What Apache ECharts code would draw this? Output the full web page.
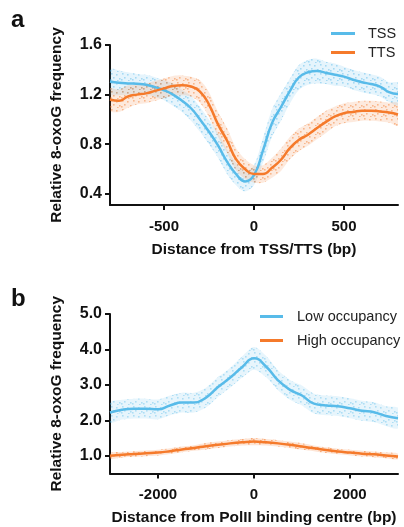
<!DOCTYPE html>
<html>
<head>
<meta charset="utf-8">
<script src="https://cdn.jsdelivr.net/npm/echarts@6/dist/echarts.min.js"></script>
<style>html,body{margin:0;padding:0;background:#fff}#c{width:404px;height:527px}</style>
</head>
<body>
<div id="c"></div>
<script>
// Panel a: distance from TSS/TTS (bp)
var xA = [-800,-750,-700,-650,-600,-550,-500,-450,-400,-350,-300,-250,-200,-150,-100,-50,0,50,100,150,200,250,300,350,400,450,500,550,600,650,700,750,800];
var tss = [1.305,1.295,1.29,1.287,1.28,1.26,1.235,1.20,1.15,1.09,1.00,0.90,0.79,0.66,0.56,0.50,0.55,0.75,0.97,1.10,1.23,1.34,1.38,1.39,1.375,1.36,1.345,1.32,1.30,1.285,1.265,1.22,1.205];
var tts = [1.16,1.15,1.185,1.20,1.21,1.23,1.25,1.27,1.275,1.265,1.225,1.12,0.96,0.83,0.68,0.60,0.56,0.56,0.61,0.675,0.77,0.836,0.877,0.93,0.98,1.024,1.05,1.06,1.07,1.07,1.064,1.055,1.04];
// half-width of the point clouds
var tssSpread = [0.10,0.10,0.09,0.08,0.08,0.08,0.08,0.09,0.09,0.10,0.10,0.10,0.10,0.10,0.09,0.08,0.08,0.10,0.11,0.11,0.10,0.10,0.10,0.10,0.09,0.09,0.08,0.08,0.08,0.08,0.08,0.08,0.09];
var ttsSpread = [0.09,0.09,0.09,0.08,0.08,0.08,0.08,0.08,0.08,0.08,0.09,0.10,0.10,0.10,0.09,0.08,0.07,0.07,0.08,0.09,0.09,0.09,0.09,0.09,0.09,0.08,0.08,0.08,0.08,0.08,0.08,0.08,0.09];
var ticksAx = [-500,0,500];
var ticksAy = [0.4,0.8,1.2,1.6];

// Panel b: distance from PolII binding centre (bp)
var xB = [-3000,-2750,-2500,-2250,-2000,-1750,-1500,-1250,-1000,-750,-500,-250,0,250,500,750,1000,1250,1500,1750,2000,2250,2500,2750,3000];
var lowOcc = [2.22,2.30,2.33,2.33,2.31,2.42,2.50,2.50,2.64,2.94,3.20,3.50,3.75,3.52,3.13,2.86,2.70,2.47,2.42,2.40,2.34,2.27,2.23,2.12,2.06];
var highOcc = [1.00,1.03,1.05,1.07,1.09,1.13,1.18,1.22,1.27,1.31,1.35,1.38,1.40,1.38,1.35,1.31,1.26,1.21,1.16,1.12,1.09,1.06,1.04,1.01,0.98];
var lowSpread = [0.28,0.28,0.28,0.28,0.28,0.28,0.28,0.28,0.28,0.28,0.28,0.30,0.32,0.30,0.28,0.28,0.28,0.28,0.28,0.28,0.28,0.28,0.28,0.28,0.28];
var highSpread = [0.08,0.08,0.08,0.08,0.08,0.08,0.08,0.08,0.09,0.09,0.09,0.09,0.10,0.09,0.09,0.09,0.09,0.08,0.08,0.08,0.08,0.08,0.08,0.08,0.08];
var ticksBx = [-2000,0,2000];
var ticksBy = [1.0,2.0,3.0,4.0,5.0];

var BLUE = '#58BBE9', ORANGE = '#F57A2B';
var FONT = '"Liberation Sans", Arial, sans-serif';

// speckle texture used to fill the point-cloud bands
function speckle(rgb, alpha) {
  var c = document.createElement('canvas');
  c.width = 11; c.height = 9;
  var g = c.getContext('2d');
  g.fillStyle = 'rgba(' + rgb + ',' + (alpha * 0.35) + ')';
  g.fillRect(0, 0, 11, 9);
  g.fillStyle = 'rgba(' + rgb + ',' + alpha + ')';
  var dots = [[1,1],[6,2],[3,5],[9,6],[7,8],[0,7]];
  dots.forEach(function (d) { g.fillRect(d[0], d[1], 1.6, 1.6); });
  return c;
}

function pairs(xs, ys) { return xs.map(function (x, i) { return [x, ys[i]]; }); }

function band(name, xs, ys, sp, rgb, alpha, axisIdx) {
  var data = xs.map(function (x, i) { return [x, ys[i] - sp[i], ys[i] + sp[i]]; });
  var tex = speckle(rgb, alpha);
  return {
    type: 'custom', name: name, xAxisIndex: axisIdx, yAxisIndex: axisIdx, silent: true, z: 1,
    data: data, clip: true,
    renderItem: function (params, api) {
      if (params.dataIndex !== 0) return null;
      var up = [], lo = [];
      for (var i = 0; i < data.length; i++) {
        up.push(api.coord([data[i][0], data[i][2]]));
        lo.unshift(api.coord([data[i][0], data[i][1]]));
      }
      return {
        type: 'polygon',
        shape: { points: up.concat(lo), smooth: 0.3 },
        style: { fill: { image: tex, repeat: 'repeat' } }
      };
    }
  };
}

function line(name, xs, ys, color, axisIdx) {
  return {
    type: 'line', name: name, xAxisIndex: axisIdx, yAxisIndex: axisIdx, z: 3,
    data: pairs(xs, ys), smooth: 0.5, showSymbol: false, symbol: 'none',
    lineStyle: { color: color, width: 2.5 }, itemStyle: { color: color }
  };
}

function xAxis(idx, min, max, ticks, name) {
  return {
    type: 'value', gridIndex: idx, min: min, max: max,
    axisLine: { show: true, onZero: false, lineStyle: { color: '#111', width: 2 } },
    axisTick: { show: true, length: 5, lineStyle: { color: '#111', width: 2 }, customValues: ticks },
    axisLabel: { customValues: ticks, color: '#111', fontFamily: FONT, fontWeight: 'bold', fontSize: 15, margin: 14,
      formatter: function (v) { return String(v); } },
    splitLine: { show: false },
    name: name, nameLocation: 'middle', nameGap: 36.5,
    nameTextStyle: { color: '#111', fontFamily: FONT, fontWeight: 'bold', fontSize: 15.5 }
  };
}
function yAxis(idx, min, max, ticks) {
  return {
    type: 'value', gridIndex: idx, min: min, max: max,
    axisLine: { show: true, onZero: false, lineStyle: { color: '#111', width: 2 } },
    axisTick: { show: true, length: 5, lineStyle: { color: '#111', width: 2 }, customValues: ticks },
    axisLabel: { customValues: ticks, color: '#111', fontFamily: FONT, fontWeight: 'bold', fontSize: 16, margin: 8,
      formatter: function (v) { return v.toFixed(1); } },
    splitLine: { show: false },
    name: 'Relative 8-oxoG frequency', nameLocation: 'middle', nameGap: 45,
    nameTextStyle: { color: '#111', fontFamily: FONT, fontWeight: 'bold', fontSize: 15.5 }
  };
}

var chart = echarts.init(document.getElementById('c'), null, { renderer: 'canvas' });
chart.setOption({
  animation: false,
  backgroundColor: '#fff',
  title: [
    { text: 'a', left: 11, top: 8, padding: 0, textStyle: { fontFamily: FONT, fontWeight: 'bold', fontSize: 24, color: '#111' } },
    { text: 'b', left: 11, top: 287, padding: 0, textStyle: { fontFamily: FONT, fontWeight: 'bold', fontSize: 24, color: '#111' } }
  ],
  legend: [
    { data: ['TSS', 'TTS'], orient: 'vertical', left: 331, top: 26, padding: 0, itemWidth: 24, itemHeight: 3, itemGap: 4, icon: 'rect',
      textStyle: { fontFamily: FONT, fontSize: 14.5, color: '#222', lineHeight: 14, padding: [0, 0, 0, 8] } },
    { data: ['Low occupancy', 'High occupancy'], orient: 'vertical', left: 260, top: 309, padding: 0, itemWidth: 23, itemHeight: 3, itemGap: 9, icon: 'rect',
      textStyle: { fontFamily: FONT, fontSize: 14.5, color: '#222', lineHeight: 14, padding: [0, 0, 0, 9] } }
  ],
  grid: [
    { left: 110, top: 45, width: 288, height: 160 },
    { left: 110, top: 314, width: 288, height: 163 }
  ],
  xAxis: [
    xAxis(0, -800, 800, ticksAx, 'Distance from TSS/TTS (bp)'),
    xAxis(1, -3000, 3000, ticksBx, 'Distance from PolII binding centre (bp)')
  ],
  yAxis: [
    yAxis(0, 0.31, 1.6, ticksAy),
    yAxis(1, 0.5, 5.0, ticksBy)
  ],
  series: [
    band('TSS cloud', xA, tss, tssSpread, '88,187,233', 0.45, 0),
    band('TTS cloud', xA, tts, ttsSpread, '245,122,43', 0.45, 0),
    line('TSS', xA, tss, BLUE, 0),
    line('TTS', xA, tts, ORANGE, 0),
    band('Low cloud', xB, lowOcc, lowSpread, '88,187,233', 0.4, 1),
    band('High cloud', xB, highOcc, highSpread, '245,122,43', 0.55, 1),
    line('Low occupancy', xB, lowOcc, BLUE, 1),
    line('High occupancy', xB, highOcc, ORANGE, 1)
  ]
});
</script>
</body>
</html>
